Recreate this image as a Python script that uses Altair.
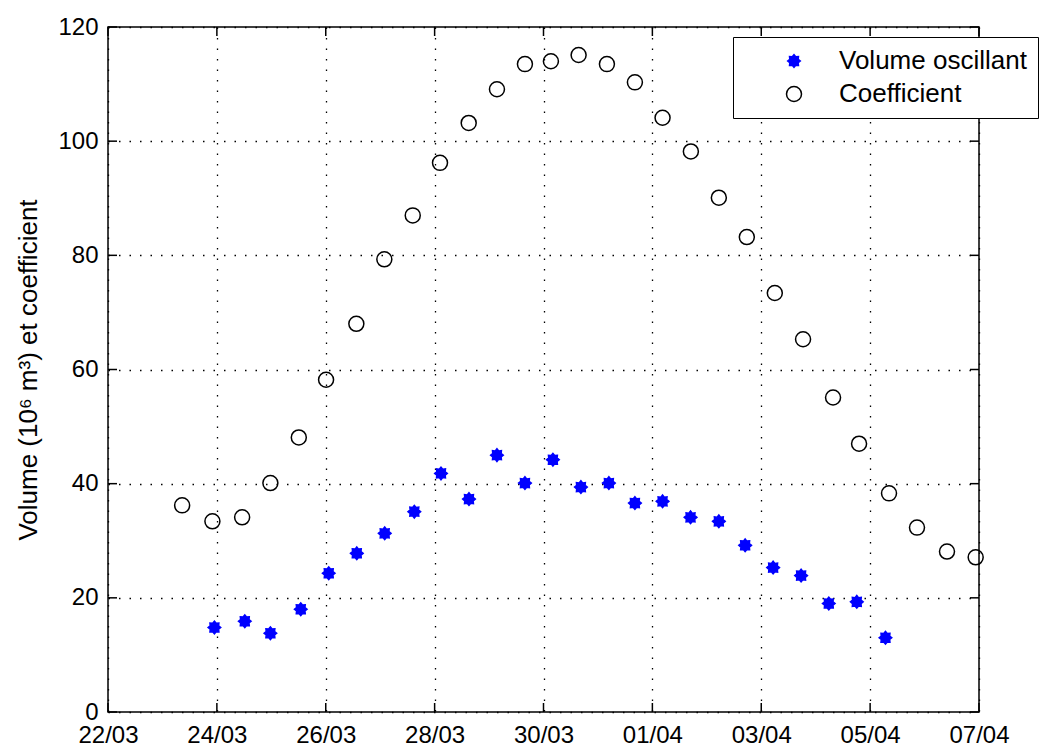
import json
import math
import altair as alt
import pandas as pd

# ---------------- data ----------------
x_tick_labels = ["22/03", "24/03", "26/03", "28/03", "30/03", "01/04", "03/04", "05/04", "07/04"]
x_tick_days = [0, 2, 4, 6, 8, 10, 12, 14, 16]          # days after 22/03
y_ticks = [0, 20, 40, 60, 80, 100, 120]

coef_days = [1.362, 1.918, 2.464, 2.983, 3.505, 4.006, 4.562, 5.076, 5.598, 6.099,
             6.626, 7.145, 7.659, 8.136, 8.645, 9.165, 9.679, 10.187, 10.707, 11.221,
             11.735, 12.249, 12.768, 13.319, 13.797, 14.347, 14.861, 15.412, 15.939]
coef_values = [36.2, 33.4, 34.1, 40.1, 48.1, 58.2, 68.0, 79.3, 87.0, 96.2,
               103.2, 109.1, 113.5, 114.0, 115.1, 113.5, 110.3, 104.1, 98.2, 90.1,
               83.2, 73.4, 65.3, 55.1, 47.0, 38.3, 32.3, 28.1, 27.1]

vol_days = [1.955, 2.513, 2.983, 3.541, 4.055, 4.570, 5.083, 5.627, 6.117, 6.631,
            7.145, 7.659, 8.173, 8.687, 9.201, 9.679, 10.187, 10.701, 11.221, 11.704,
            12.218, 12.732, 13.241, 13.755, 14.282]
vol_values = [14.8, 15.9, 13.8, 18.0, 24.3, 27.8, 31.3, 35.1, 41.8, 37.3,
              45.0, 40.1, 44.2, 39.4, 40.1, 36.6, 36.9, 34.1, 33.4, 29.2,
              25.3, 23.9, 19.0, 19.3, 13.0]

series_names = ["Volume oscillant", "Coefficient"]
y_title = "Volume (10\u2076 m\u00b3) et coefficient"

# ---------------- tables ----------------
df = pd.concat([
    pd.DataFrame({"day": vol_days, "value": vol_values, "serie": series_names[0]}),
    pd.DataFrame({"day": coef_days, "value": coef_values, "serie": series_names[1]}),
], ignore_index=True)
df_xt = pd.DataFrame({"day": x_tick_days})
df_yt = pd.DataFrame({"value": y_ticks})

# ---------------- style ----------------
FONT = "Liberation Sans"
W, H = 871, 685
TICK = 9

# 8-point starburst similar to MATLAB's upscaled '*' marker
pts = []
for k in range(16):
    a = math.pi * k / 8
    r = 1.0 if k % 2 == 0 else 0.72
    pts.append(f"{r * math.cos(a):.3f},{r * math.sin(a):.3f}")
star_path = "M" + "L".join(pts) + "Z"

label_expr = f"{json.dumps(x_tick_labels)}[indexof({json.dumps(x_tick_days)}, datum.value)]"

x_scale = alt.Scale(domain=[0, 16], nice=False, zero=False)
y_scale = alt.Scale(domain=[0, 120], nice=False, zero=False)

x_axis = alt.Axis(values=x_tick_days, labelExpr=label_expr, title=None,
                  ticks=False, domain=False, grid=True,
                  gridColor="black", gridDash=[1.5, 9], gridWidth=1.3, gridOpacity=1,
                  labelFont=FONT, labelFontSize=24, labelColor="black",
                  labelPadding=11, labelFlush=False, labelOverlap=False)
y_axis = alt.Axis(values=y_ticks, title=y_title, ticks=False, domain=False, grid=True,
                  gridColor="black", gridDash=[1.5, 9], gridWidth=1.3, gridOpacity=1,
                  labelFont=FONT, labelFontSize=24, labelColor="black",
                  labelPadding=10, labelFlush=False, labelOverlap=False,
                  titleFont=FONT, titleFontSize=26, titleFontWeight="normal",
                  titleColor="black", titleAngle=270, titleAlign="center",
                  titleBaseline="middle", titleX=-80, titleY=H / 2)

legend = alt.Legend(title=None, orient="none", legendX=625, legendY=10,
                    fillColor="white", strokeColor="black", padding=11,
                    symbolOffset=37, labelOffset=32, rowPadding=7, labelLimit=500,
                    labelFont=FONT, labelFontSize=26, labelColor="black",
                    symbolStrokeWidth=1.5)

points = alt.Chart(df).mark_point(strokeWidth=1.5, opacity=1).encode(
    x=alt.X("day:Q", scale=x_scale, axis=x_axis),
    y=alt.Y("value:Q", scale=y_scale, axis=y_axis),
    shape=alt.Shape("serie:N", scale=alt.Scale(domain=series_names, range=[star_path, "circle"]), legend=legend),
    fill=alt.Fill("serie:N", scale=alt.Scale(domain=series_names, range=["#0000ff", "transparent"]), legend=legend),
    stroke=alt.Stroke("serie:N", scale=alt.Scale(domain=series_names, range=["#0000ff", "black"]), legend=legend),
    size=alt.Size("serie:N", scale=alt.Scale(domain=series_names, range=[160, 225]), legend=legend),
)

tick_style = dict(color="black", strokeWidth=1.5)
x_ticks_bottom = alt.Chart(df_xt).mark_rule(**tick_style).encode(
    x=alt.X("day:Q", scale=x_scale, axis=x_axis), y=alt.value(H), y2=alt.value(H - TICK))
x_ticks_top = alt.Chart(df_xt).mark_rule(**tick_style).encode(
    x=alt.X("day:Q", scale=x_scale, axis=x_axis), y=alt.value(0), y2=alt.value(TICK))
y_ticks_left = alt.Chart(df_yt).mark_rule(**tick_style).encode(
    y=alt.Y("value:Q", scale=y_scale, axis=y_axis), x=alt.value(0), x2=alt.value(TICK))
y_ticks_right = alt.Chart(df_yt).mark_rule(**tick_style).encode(
    y=alt.Y("value:Q", scale=y_scale, axis=y_axis), x=alt.value(W), x2=alt.value(W - TICK))

chart = alt.layer(points, x_ticks_bottom, x_ticks_top, y_ticks_left, y_ticks_right).properties(
    width=W, height=H,
    autosize=alt.AutoSizeParams(type="none"),
    padding={"left": 108, "top": 27, "right": 63, "bottom": 35},
    background="white",
).configure_view(stroke="black", strokeWidth=1.5)

chart.save("out.html", embed_options={"renderer": "svg", "actions": False})
